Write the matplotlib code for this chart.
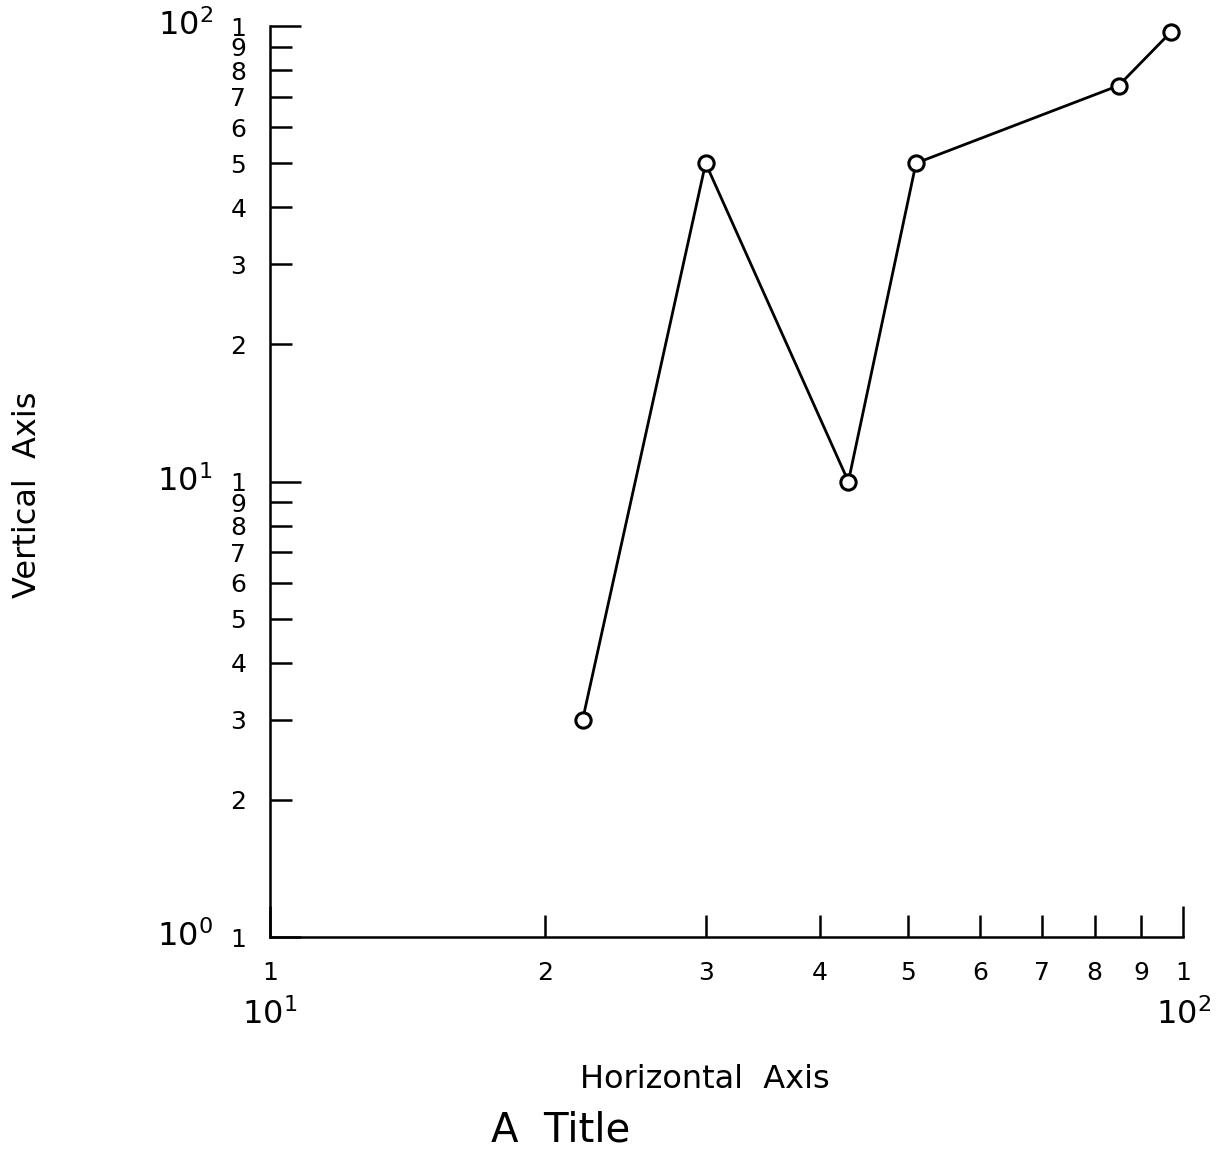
import matplotlib.pyplot as plt
from matplotlib.transforms import blended_transform_factory

# data series
x_vals = [22, 30, 43, 51, 85, 97]
y_vals = [3, 50, 10, 50, 74, 97]

# log ticks: decades get a long tick and label "1", the rest get their digit
x_major = [10, 100]
x_minor = [20, 30, 40, 50, 60, 70, 80, 90]
y_major = [1, 10, 100]
y_minor = [2, 3, 4, 5, 6, 7, 8, 9, 20, 30, 40, 50, 60, 70, 80, 90]
x_decades = [10, 100]
x_decade_labels = [r'$\mathregular{10^{1}}$', r'$\mathregular{10^{2}}$']
y_decades = [1, 10, 100]
y_decade_labels = [r'$\mathregular{10^{0}}$', r'$\mathregular{10^{1}}$',
                   r'$\mathregular{10^{2}}$']


def digit(v):
    return str(int(round(v / 10 ** (len(str(int(v))) - 1))))


fig = plt.figure(figsize=(12.2, 11.52), dpi=100)
ax = fig.add_axes([0.2213, 0.1866, 0.7484, 0.7908])

ax.plot(x_vals, y_vals, color='black', lw=2.0, marker='o', ms=11,
        mfc='white', mec='black', mew=2.2, clip_on=False, zorder=3)

ax.set_xscale('log')
ax.set_yscale('log')
ax.set_xlim(10, 100)
ax.set_ylim(1, 100)

ax.set_xticks(x_major, labels=[digit(v) for v in x_major])
ax.set_xticks(x_minor, labels=[digit(v) for v in x_minor], minor=True)
ax.set_yticks(y_major, labels=[digit(v) for v in y_major])
ax.set_yticks(y_minor, labels=[digit(v) for v in y_minor], minor=True)

ax.tick_params(which='both', direction='in', width=1.8, labelsize=18,
               colors='black')
ax.tick_params(axis='y', which='both', pad=17)
ax.tick_params(axis='x', which='both', pad=17)
ax.tick_params(which='major', length=22)
ax.tick_params(which='minor', length=16)

for side in ['top', 'right']:
    ax.spines[side].set_visible(False)
for side in ['left', 'bottom']:
    ax.spines[side].set_linewidth(1.8)

# decade labels next to the digit labels
ty = blended_transform_factory(ax.transAxes, ax.transData)
for v, lab in zip(y_decades, y_decade_labels):
    ax.text(-0.093, v, lab, transform=ty, ha='center', va='center', fontsize=23)
tx = blended_transform_factory(ax.transData, ax.transAxes)
for v, lab in zip(x_decades, x_decade_labels):
    ax.text(v, -0.085, lab, transform=tx, ha='center', va='center', fontsize=23)

fig.text(705 / 1220, 1 - 1080 / 1152, 'Horizontal  Axis', ha='center',
         va='center', fontsize=23)
fig.text(28 / 1220, 1 - 495 / 1152, 'Vertical  Axis', ha='center',
         va='center', fontsize=23, rotation=90)
fig.text(561 / 1220, 1 - 1131 / 1152, 'A  Title', ha='center',
         va='center', fontsize=29)

fig.savefig('out.png', dpi=100)
